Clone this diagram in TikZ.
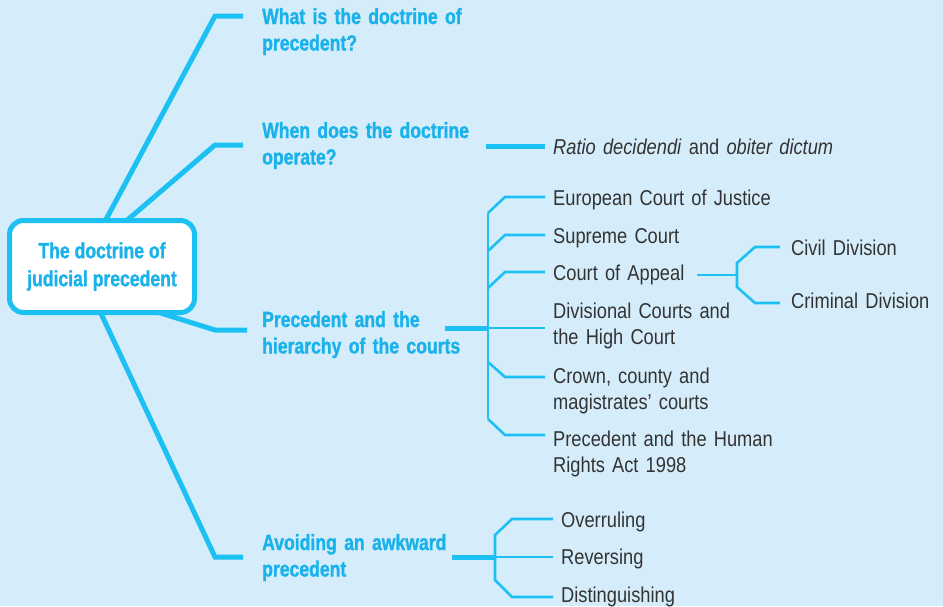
\documentclass[tikz,border=0pt]{standalone}
\usepackage{fontspec}
\setmainfont{Liberation Sans}[FakeStretch=0.85]
\newfontfamily\headfont{Liberation Sans}[FakeStretch=0.8, BoldFeatures={FakeBold=1.2}]
\definecolor{bgblue}{HTML}{D5EDFA}
\definecolor{lineblue}{HTML}{1CC0F2}
\definecolor{headblue}{HTML}{19B2EA}
\definecolor{textgray}{HTML}{333333}
\tikzset{
  thickline/.style={draw=lineblue, line width=5pt},
  thinline/.style={draw=lineblue, line width=2.6pt, line join=miter},
  head/.style={anchor=base west, inner sep=0pt, text width=300pt, align=left,
    font=\headfont\bfseries\fontsize{22}{26.5}\selectfont, text=headblue},
  item/.style={anchor=base west, inner sep=0pt, text width=320pt, align=left,
    font=\fontsize{21.5}{26}\selectfont, text=textgray},
  rootbox/.style={draw=lineblue, line width=5pt, fill=white, rounded corners=14pt,
    minimum width=185pt, minimum height=92pt, inner sep=0pt, align=center,
    font=\headfont\bfseries\fontsize{22}{28}\selectfont, text=headblue},
}
\begin{document}
\begin{tikzpicture}[x=1pt,y=-1pt]
\useasboundingbox (0,0) rectangle (943,606);
\fill[bgblue] (0,0) rectangle (943,606);

% coordinates
\coordinate (s1) at (95,240);  \coordinate (c1) at (215,16);  \coordinate (e1) at (243,16);
\coordinate (s2) at (104,240); \coordinate (c2) at (215,145); \coordinate (e2) at (243,145);
\coordinate (s3) at (154,311); \coordinate (c3) at (215,330); \coordinate (e3) at (247,330);
\coordinate (s4) at (90,290);  \coordinate (c4) at (215,557); \coordinate (e4) at (243,557);

% branch lines (drawn under the root box)
\draw[thickline] (s1) -- (c1) -- (e1);
\draw[thickline] (s2) -- (c2) -- (e2);
\draw[thickline] (s3) -- (c3) -- (e3);
\draw[thickline] (s4) -- (c4) -- (e4);

\node[rootbox] (root) at (102,266.5) {The doctrine of\\judicial precedent};

% headings
\node[head] (h1) at (262,24) {What is the doctrine of\\precedent?};
\node[head] (h2) at (262,138) {When does the doctrine\\operate?};
\node[head] (h3) at (262,327) {Precedent and the\\hierarchy of the courts};
\node[head] (h4) at (262,550) {Avoiding an awkward\\precedent};

% branch 2
\coordinate (r2a) at (486,146); \coordinate (r2b) at (545,146);
\draw[thickline] (r2a) -- (r2b);
\node[item] (ratio) at (553,154) {\textit{Ratio decidendi} and \textit{obiter dictum}};

% branch 3 bracket
\coordinate (b3a) at (445,328); \coordinate (b3) at (488,328);
\coordinate (b3top) at (488,213); \coordinate (b3bot) at (488,419);
\draw[thickline] (b3a) -- (b3);
\draw[thinline] (b3top) -- (b3bot);
\coordinate (k1) at (488,213); \coordinate (k1b) at (505,197); \coordinate (k1e) at (545,197);
\coordinate (k2) at (488,251); \coordinate (k2b) at (505,235); \coordinate (k2e) at (545,235);
\coordinate (k3) at (488,288); \coordinate (k3b) at (505,272); \coordinate (k3e) at (545,272);
\coordinate (k4e) at (545,328);
\coordinate (k5) at (488,362); \coordinate (k5b) at (505,377); \coordinate (k5e) at (545,377);
\coordinate (k6) at (488,419); \coordinate (k6b) at (505,435); \coordinate (k6e) at (545,435);
\draw[thinline] (k1) -- (k1b) -- (k1e);
\draw[thinline] (k2) -- (k2b) -- (k2e);
\draw[thinline] (k3) -- (k3b) -- (k3e);
\draw[thinline] (b3) -- (k4e);
\draw[thinline] (k5) -- (k5b) -- (k5e);
\draw[thinline] (k6) -- (k6b) -- (k6e);

\node[item] (ecj) at (553,205) {European Court of Justice};
\node[item] (sc) at (553,243) {Supreme Court};
\node[item] (ca) at (553,280) {Court of Appeal};
\node[item] (dc) at (553,318) {Divisional Courts and\\the High Court};
\node[item] (cc) at (553,383) {Crown, county and\\magistrates’ courts};
\node[item] (hra) at (553,446) {Precedent and the Human\\Rights Act 1998};

% court of appeal split
\coordinate (ca1) at (697,275); \coordinate (ca2) at (737,275);
\coordinate (cat) at (737,263); \coordinate (cab) at (737,287);
\coordinate (cu) at (755,247); \coordinate (cue) at (780,247);
\coordinate (cd) at (755,303); \coordinate (cde) at (780,303);
\draw[thinline] (ca1) -- (ca2);
\draw[thinline] (cue) -- (cu) -- (cat) -- (cab) -- (cd) -- (cde);
\node[item] (civ) at (791,255) {Civil Division};
\node[item] (crim) at (791,308) {Criminal Division};

% branch 4 bracket
\coordinate (b4a) at (452,557); \coordinate (b4) at (495,557);
\coordinate (b4t) at (495,535); \coordinate (b4b) at (495,580);
\coordinate (o1) at (512,519); \coordinate (o1e) at (553,519);
\coordinate (o2e) at (553,557);
\coordinate (o3) at (512,597); \coordinate (o3e) at (553,597);
\draw[thickline] (b4a) -- (b4);
\draw[thinline] (o1e) -- (o1) -- (b4t) -- (b4b) -- (o3) -- (o3e);
\draw[thinline] (b4) -- (o2e);
\node[item] (over) at (561,527) {Overruling};
\node[item] (rev) at (561,564) {Reversing};
\node[item] (dist) at (561,602) {Distinguishing};
\end{tikzpicture}
\end{document}
